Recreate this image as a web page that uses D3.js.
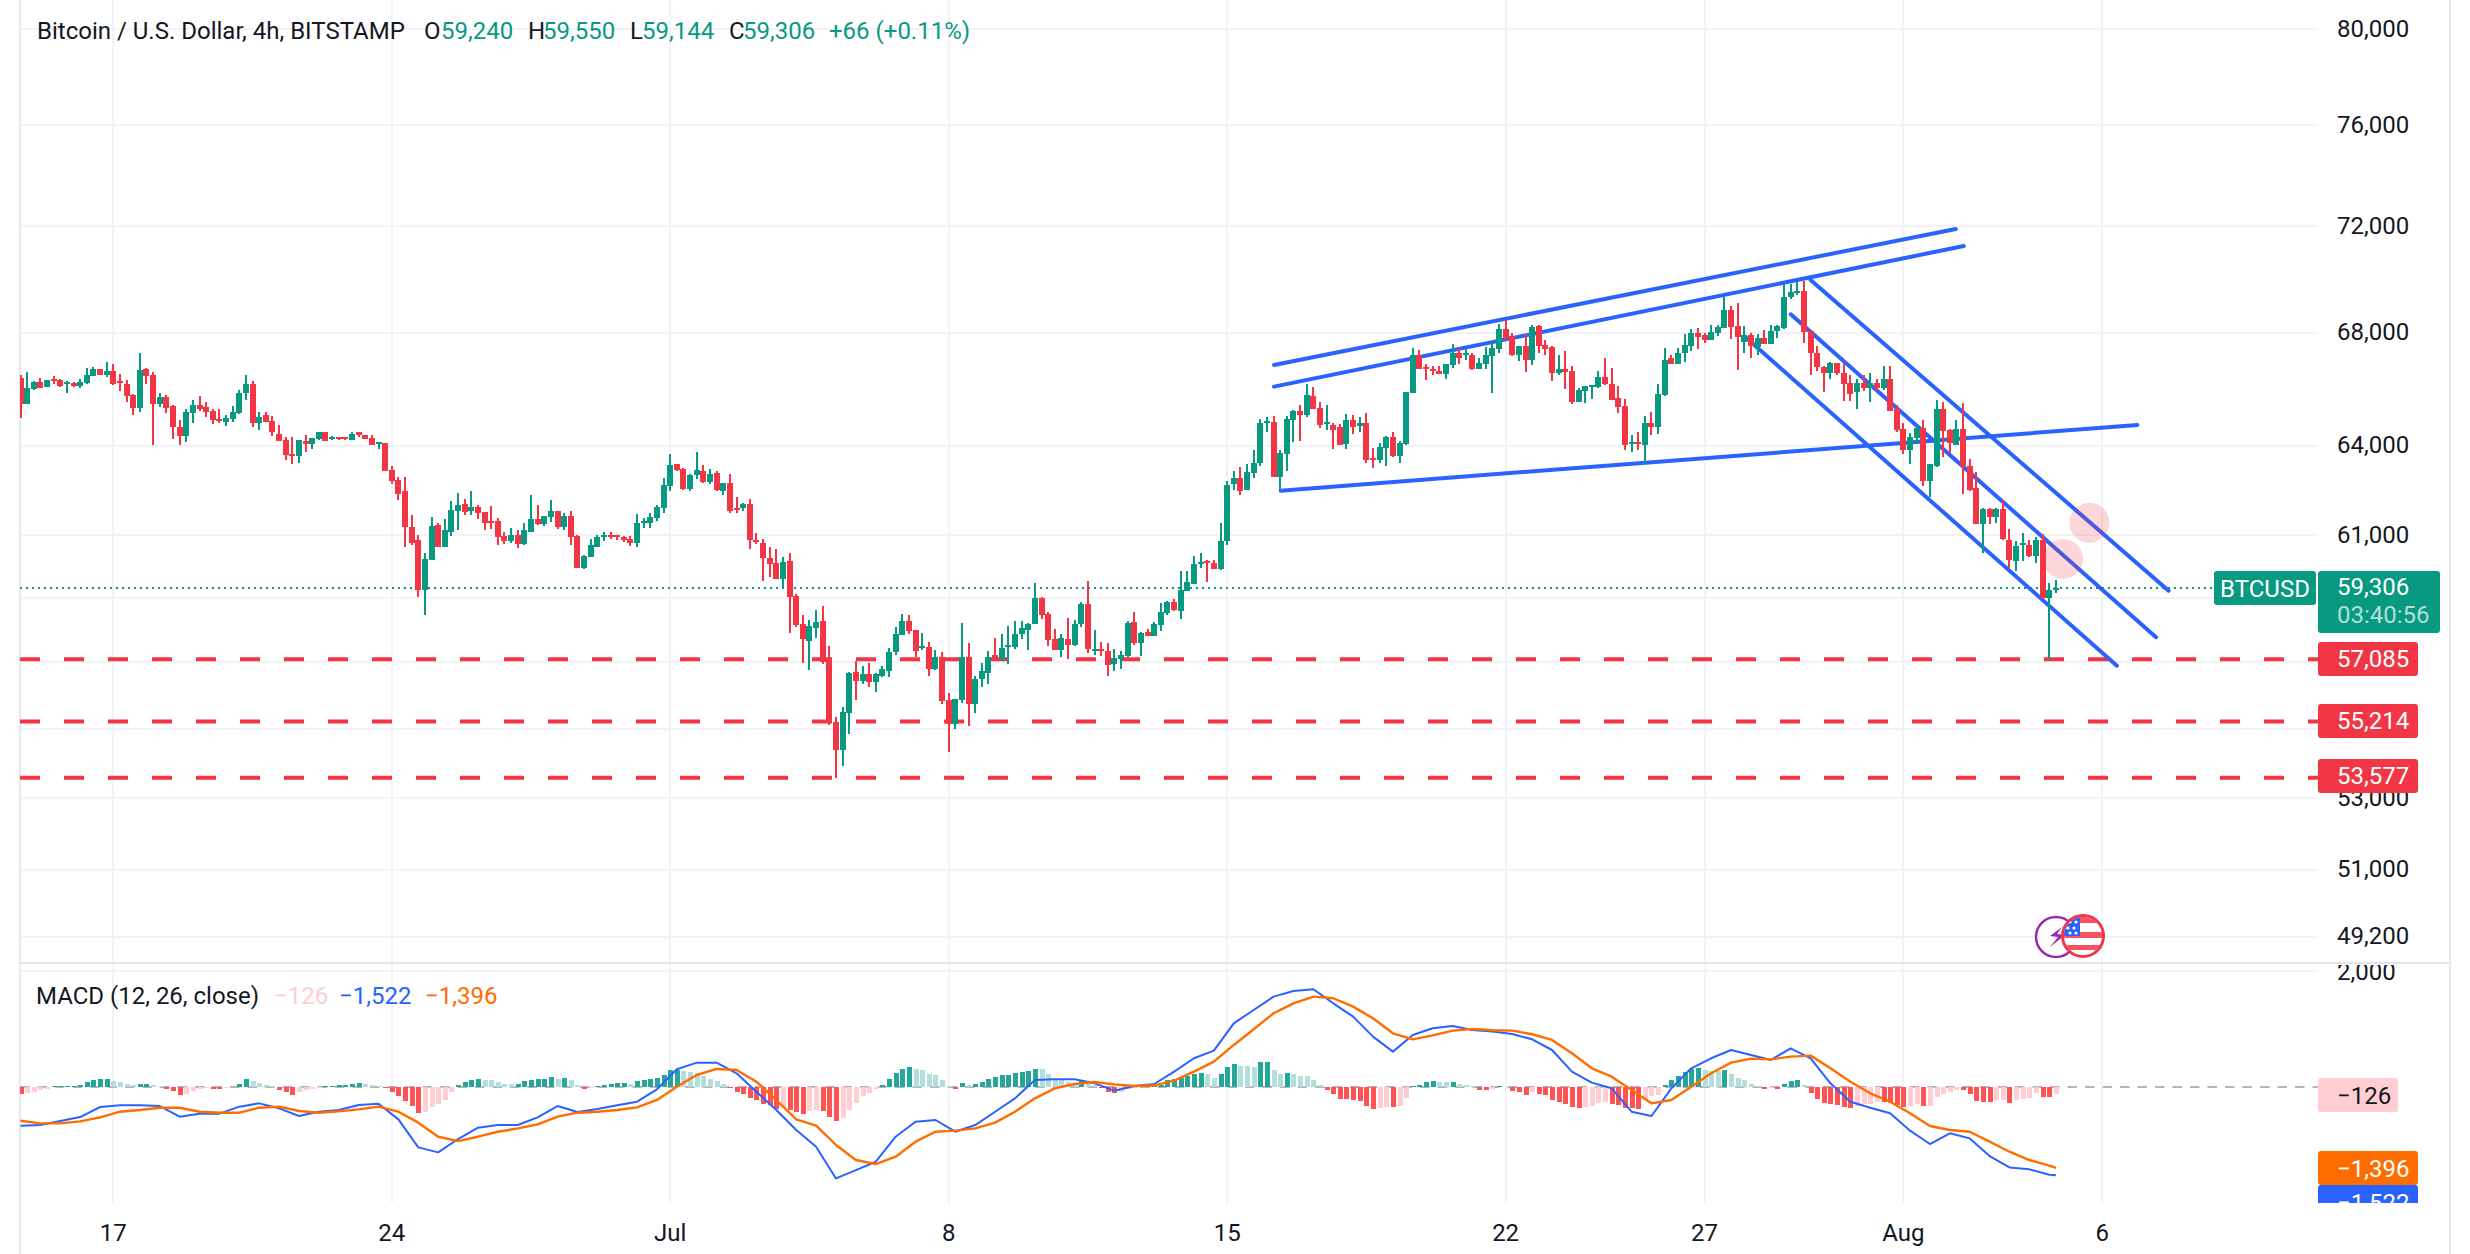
<!DOCTYPE html>
<html><head><meta charset="utf-8">
<script src="https://cdn.jsdelivr.net/npm/d3@7"></script>
<style>html,body{margin:0;padding:0;background:#fff}svg{display:block}text{font-family:Roboto,sans-serif;font-size:24px}</style>
</head><body><div id="chart"></div>
<script>
const opens=[66360,65450,65990,66220,66050,66330,66290,66150,66190,66080,
66190,66430,66680,66470,66610,66260,66150,65760,65300,66680,
66470,65450,65690,65380,64640,64350,65130,65410,65340,65200,
64920,64810,64920,65130,65840,66150,64780,65060,64850,64420,
64210,63730,63670,64180,64070,64250,64460,64250,64320,64320,
64210,64460,64390,64280,64070,64110,63170,62830,62470,61270,
60840,59250,60220,61330,60640,61130,61800,62030,61800,61930,
61770,61470,61470,60970,60810,61000,60710,61100,61530,61370,
61600,61800,61270,61630,60970,59960,60290,60640,60970,61030,
61030,60960,60890,60760,61420,61420,61590,61920,62650,63380,
63210,62550,63010,63150,62780,63080,62480,62750,61920,61890,
62050,60860,60760,60280,60120,59600,60180,59050,58180,57650,
58060,58280,57040,55200,54390,55470,56710,56440,56650,56410,
56590,56740,57310,57840,58280,58000,57440,57470,56800,57160,
55860,55140,55860,57160,55740,56500,56680,57220,57100,57470,
57470,57870,58000,58180,58990,58490,57720,57380,57720,57530,
58180,58800,57340,57410,57340,56950,57100,57190,58240,57590,
57930,57810,58150,58520,58870,58590,59220,59440,60090,60180,
60120,59920,60820,62700,62900,62500,63070,63400,64780,64810,
62930,63730,64880,65200,65060,65730,65310,64740,64710,64640,
64070,64880,64670,64780,63570,63500,63930,64320,63670,64070,
65830,67210,66750,66680,66610,66500,66820,67250,67180,67210,
66680,66860,67140,67420,68130,67880,67210,67530,67030,68240,
67560,67490,66540,66680,66610,65520,65910,66050,66050,66400,
66170,65660,65380,64070,64140,64040,64780,64640,65760,67070,
66860,67280,67530,67990,67920,67740,67990,68170,68820,68240,
67670,67920,67490,67810,67600,68060,68170,69300,69480,69550,
68060,67260,66750,66560,66920,66560,66180,65860,66180,66000,
66180,66020,66350,65260,64590,63860,64260,64620,62820,63300,
65290,64540,64020,64590,63330,62560,61390,61860,61600,61860,
60860,60180,60720,60700,60320,60860,59000,59240];
const highs=[66470,66580,66260,66360,66290,66430,66330,66260,66220,66330,
66720,66750,66680,66930,66860,66500,66290,65800,67250,66720,
66580,65840,65760,65410,64880,65270,65590,65730,65520,65270,
65270,65060,65380,65940,66470,66260,65160,65160,65020,64710,
64320,64320,64210,64390,64280,64490,64490,64350,64320,64320,
64490,64460,64390,64390,64140,64110,63300,62930,62930,61670,
61000,60420,61600,61400,61530,62130,62400,62200,62470,62000,
61770,61970,61570,61100,61230,61170,61400,62330,62000,61630,
62170,61800,61730,61800,61030,60350,60900,61030,61130,61100,
61030,60990,60990,61690,61590,61750,62020,62920,63710,63380,
63250,63050,63780,63350,63210,63150,62750,63050,62280,62080,
62220,61090,60890,60630,60570,60310,60440,59120,58460,58310,
58620,58740,57500,55350,55650,56710,57040,56890,56980,56680,
56890,57440,58090,58490,58460,58000,57900,57620,57380,57310,
56050,55890,58210,57590,56590,56980,57340,57750,57870,58120,
58280,58280,58210,59470,59020,58560,58030,57870,58370,58310,
58870,59540,58000,57620,57590,57410,57340,58280,58560,57930,
58030,58240,58830,58900,58960,59860,59860,60340,60440,60210,
60210,61410,62810,63130,63270,63370,63870,64920,64990,65020,
63870,65020,65230,65410,66150,66050,65520,65410,64780,64740,
65090,65060,64990,65130,63930,64110,64350,64460,64180,65870,
67460,67390,66860,66790,66790,66860,67600,67460,67420,67250,
67070,67490,67670,68320,68460,67990,67530,67950,68280,68280,
67740,67530,67180,67350,66790,66010,66080,66120,66610,67100,
66720,66080,65620,64390,64460,65020,65160,66150,67460,67180,
67460,67950,68130,68170,67990,68280,68280,69330,68970,69080,
68240,67990,67950,68100,68280,68280,69800,69800,69880,69910,
68060,67520,66810,66950,66920,66920,66490,66320,66490,66530,
66350,66810,66780,65430,64790,64440,64670,64910,63390,65580,
65530,64590,64910,65470,63540,63120,61910,61910,61910,62160,
61210,60830,61080,60860,60950,61060,59460,59550];
const lows=[64960,65450,65950,66020,66050,66160,66060,65840,66050,66010,
66150,66430,66470,66400,66120,65900,65520,65060,65160,66150,
64040,65340,65130,64250,64040,64140,64780,65200,64990,64740,
64780,64670,64810,65090,65590,64640,64530,64810,64350,64180,
63500,63370,63430,63800,63900,64210,64180,64210,64210,64210,
64210,64320,64250,64040,63900,63130,62700,62170,60610,60680,
59020,58450,60220,60610,60640,60970,61170,61670,61670,61530,
61170,61200,60680,60710,60740,60580,60680,61100,61330,61300,
61430,61200,61170,60680,59960,59930,60290,60640,60810,60870,
60840,60800,60670,60630,61250,61250,61490,61750,62480,63150,
62520,62480,62880,62750,62720,62480,62350,61750,61750,61790,
60570,60730,59540,59670,59600,59280,57900,58090,56980,56770,
57750,56950,55110,53580,53920,54840,55860,56350,56230,56080,
56560,56560,57220,57840,57870,57160,57380,56590,56770,55740,
54330,54990,55770,55080,55470,56230,56320,57040,57040,56950,
57410,57720,57380,58180,58340,57500,57380,57160,57100,57500,
58090,57280,57220,57190,56590,56740,56800,57160,57530,57190,
57810,57810,57960,58460,58590,58340,59220,59440,59960,59510,
59920,59880,60690,62500,62330,62500,62900,63330,64490,62930,
62500,63130,64140,64180,64990,65270,64600,64560,63900,64040,
63900,64420,64460,63430,63230,63430,63300,63630,63430,64040,
65830,66680,66290,66470,66500,66330,66720,66860,67000,66650,
66680,66680,65830,67280,67740,67140,66960,66580,66820,67280,
67210,66260,66470,65980,65450,65520,65480,65620,66010,66120,
65590,65130,63870,63800,63870,63430,64390,64420,65730,66860,
66860,66930,67320,67420,67630,67740,67880,68170,67770,66650,
67250,67070,67210,67600,67600,67810,68130,69250,69370,67630,
66470,66610,65870,66320,66490,65550,65550,65290,65900,65520,
65900,65960,65220,64490,63720,63390,64080,62630,62260,63280,
63630,63740,64020,62360,62470,61360,60430,61360,61410,60860,
59910,59860,60160,60300,60110,58950,57085,59144];
const closes=[65450,66010,66220,66020,66290,66260,66090,66220,66080,66220,
66470,66680,66470,66610,66150,66190,65730,65300,66650,66430,
65450,65690,65300,64640,64350,65160,65410,65270,65160,64880,
64850,64950,65160,65840,66150,64780,64990,64810,64460,64180,
63700,63670,64210,64070,64280,64460,64180,64320,64250,64250,
64420,64390,64250,64040,64140,63130,62800,62370,61270,60770,
59250,60250,61300,60610,61170,61830,62000,61770,61930,61730,
61400,61400,60940,60810,61000,60710,61170,61530,61370,61630,
61800,61270,61630,60940,59960,60320,60680,60940,61030,60970,
60970,60860,60760,61420,61490,61620,61950,62680,63350,63180,
62550,63010,63180,62780,63050,62520,62750,61820,61850,62050,
60860,60800,60280,60090,59600,60150,59020,58150,57720,58120,
58240,57010,55170,54390,55500,56680,56440,56650,56410,56650,
56800,57310,57870,58280,57960,57340,57500,56800,57160,55830,
55140,55890,57160,55740,56500,56740,57160,57040,57440,57530,
57870,58060,58180,58990,58460,57690,57380,57750,57530,58180,
58800,57410,57410,57340,56920,57130,57220,58210,57590,57900,
57810,58180,58560,58870,58620,59250,59510,60090,60150,60120,
59920,60820,62670,62900,62470,63100,63430,64780,64850,62930,
63770,64920,65200,65060,65760,65270,64710,64810,64530,64040,
64880,64640,64780,63530,63500,63970,64320,63670,64110,65870,
67210,66680,66680,66610,66500,66860,67250,67100,67250,66680,
66890,67210,67460,68130,67810,67210,67530,67030,68200,67530,
67420,66540,66680,66580,65520,65940,66080,66120,66400,66150,
65590,65340,64040,64140,64070,64780,64640,65800,67030,66860,
67280,67560,67990,67850,67740,68020,68200,68820,68200,67850,
67920,67530,67810,67600,68060,68240,69300,69480,69550,68020,
67250,66750,66560,66920,66560,66140,65820,66180,66030,66180,
66020,66350,65220,64550,63860,64290,64620,62820,63390,65290,
64520,64110,64590,63300,62520,61390,61860,61600,61860,60880,
60220,60670,60750,60320,60860,59000,59250,59306];

const histogram=[-115,-105,-80,-60,-29,12,14,17,23,35,
86,127,132,138,104,81,52,29,52,58,
35,17,-35,-69,-138,-115,-75,-35,-17,-29,
-35,-17,-6,58,138,98,63,40,17,-46,
-92,-138,-92,-58,-35,-12,17,23,29,40,
58,69,52,35,17,-17,-81,-161,-242,-322,
-449,-437,-345,-299,-219,-81,29,86,127,138,
121,115,86,58,46,58,104,115,138,144,
167,144,150,115,35,-35,-17,17,35,52,
69,75,46,98,127,138,161,213,288,299,
276,259,242,184,144,104,58,-17,-92,-115,
-190,-230,-288,-316,-374,-362,-391,-431,-460,-414,
-391,-414,-518,-587,-541,-391,-276,-150,-104,-29,
29,138,242,316,345,316,288,230,207,115,
17,-29,69,35,58,92,144,173,201,213,
247,259,270,316,305,219,144,115,81,58,
115,58,29,-17,-92,-104,-81,-40,-17,6,
12,17,40,115,132,161,184,219,242,219,
161,219,345,391,357,355,350,431,432,288,
230,236,230,190,184,115,29,-58,-127,-213,
-215,-219,-242,-334,-374,-357,-345,-350,-334,-190,
12,40,86,104,86,84,85,46,35,12,
-46,-48,-29,17,5,-69,-92,-138,-86,-127,
-138,-219,-253,-288,-345,-357,-345,-334,-276,-265,
-288,-316,-357,-370,-374,-230,-161,-144,29,115,
196,259,311,334,299,276,270,288,230,161,
115,58,17,-35,-23,-35,58,104,115,29,
-104,-207,-270,-288,-311,-345,-357,-334,-288,-285,
-253,-265,-276,-316,-345,-334,-299,-334,-322,-173,
-127,-81,-46,-58,-127,-242,-253,-258,-230,-228,
-276,-219,-201,-184,-104,-173,-178,-126];
const macdLine=[-667,-656,-587,-518,-345,-316,-316,-328,-512,-460,
-460,-339,-282,-368,-500,-426,-397,-311,-288,-558,
-1041,-1127,-897,-702,-656,-656,-523,-328,-431,-380,
-316,-253,-40,305,420,420,236,-81,-397,-742,
-1029,-1576,-1432,-1288,-857,-598,-569,-771,-656,-426,
-196,121,132,132,63,-63,17,52,265,495,
627,1098,1328,1558,1656,1685,1443,1213,868,610,
897,1012,1052,983,955,914,822,638,265,75,
-23,-426,-500,-23,322,495,638,552,466,667,
495,63,-253,-357,-454,-753,-983,-799,-886,-1190,
-1386,-1420,-1512,-1522];
const signalLine=[-581,-627,-627,-592,-523,-426,-397,-357,-357,-426,
-443,-443,-357,-339,-414,-443,-420,-385,-339,-426,
-615,-857,-932,-857,-771,-713,-644,-512,-443,-426,
-397,-351,-224,6,207,311,293,92,-224,-558,
-667,-1000,-1259,-1328,-1202,-943,-771,-753,-713,-615,
-426,-196,-23,52,86,46,17,29,109,265,
437,725,995,1271,1443,1558,1530,1386,1185,926,
822,891,972,1000,978,972,909,811,581,322,
178,-52,-282,-224,6,236,420,489,477,523,
541,322,92,-109,-253,-454,-673,-742,-771,-943,
-1116,-1259,-1357,-1396];
const lineSampleIndex=[...d3.range(0,307,3),307];

const priceTicks=[80000,76000,72000,68000,64000,61000,59000,57000,55000,53000,51000,49200];
const hiddenPriceTicks=[59000,57000,55000];
const timeTicks=[[14,"17"],[56,"24"],[98,"Jul"],[140,"8"],[182,"15"],[224,"22"],[254,"27"],[284,"Aug"],[314,"6"]];
const supportLevels=[57085,55214,53577];
const lastPrice=59306;
const trendLines=[
 [[189.07,66834],[291.9,71884]],
 [[189.07,66063],[293.1,71232]],
 [[190.07,62482],[319.3,64720]],
 [[270,69947],[324,59223]],
 [[267,68673],[322.1,57763]],
 [[260.1,67854],[316.2,56891]]
];
const markers=[[312.05,61420],[308.07,60240]];
const macdLegend=[["MACD (12, 26, close)",36,"#131722"],["\u2212126",274,"#ffcdd2"],["\u22121,522",339,"#2962ff"],["\u22121,396",425,"#ff6d00"]];
const headerSegs=[["Bitcoin / U.S. Dollar, 4h, BITSTAMP",37,"#131722"],["O",424,"#131722"],["59,240",441,"#089981"],["H",528,"#131722"],["59,550",543,"#089981"],["L",630,"#131722"],["59,144",642,"#089981"],["C",729,"#131722"],["59,306",743,"#089981"],["+66 (+0.11%)",829,"#089981"]];

const UP="#089981",DOWN="#f23645",GRID="#f2f3f6",BORDER="#e6e8ef";
const W=2470,H=1254,L=20,R=2318,AX=2450,PRICE_BOTTOM=963,MACD_BOTTOM=1203;
const x=d3.scaleLinear().domain([0,307]).range([20.5,20.5+6.63*307]);
const y=d3.scaleLog().domain([80000,49200]).range([29.3,936.8]);
const ym=d3.scaleLinear().domain([2000,0]).range([971,1087]);

const svg=d3.select("#chart").append("svg").attr("width",W).attr("height",H).attr("viewBox",`0 0 ${W} ${H}`);
const defs=svg.append("defs");
defs.append("clipPath").attr("id","pp").append("rect").attr("x",L).attr("y",0).attr("width",AX-L).attr("height",PRICE_BOTTOM);
defs.append("clipPath").attr("id","mp").append("rect").attr("x",L).attr("y",PRICE_BOTTOM).attr("width",AX-L).attr("height",MACD_BOTTOM-PRICE_BOTTOM);
defs.append("clipPath").attr("id","ml").append("rect").attr("x",R).attr("y",PRICE_BOTTOM+2).attr("width",AX-R).attr("height",MACD_BOTTOM-PRICE_BOTTOM-2);
defs.append("clipPath").attr("id","flag").append("circle").attr("cx",2083).attr("cy",936).attr("r",19);

// grid
const grid=svg.append("g").attr("class","grid");
grid.selectAll(".v").data(timeTicks).join("rect").attr("x",d=>Math.round(x(d[0]))-1).attr("y",0).attr("width",2).attr("height",MACD_BOTTOM).attr("fill",GRID);
grid.selectAll(".h").data(priceTicks).join("rect").attr("x",L).attr("y",d=>Math.round(y(d))-1).attr("width",R-L).attr("height",2).attr("fill",GRID);
grid.append("rect").attr("x",L).attr("y",Math.round(ym(2000))-1).attr("width",R-L).attr("height",2).attr("fill",GRID);
grid.append("rect").attr("x",L-1).attr("y",0).attr("width",2).attr("height",H).attr("fill",BORDER);
grid.append("rect").attr("x",AX-1).attr("y",0).attr("width",2).attr("height",H).attr("fill",BORDER);
grid.append("rect").attr("x",L).attr("y",PRICE_BOTTOM-1).attr("width",AX-L).attr("height",2).attr("fill","#e0e3eb");

const pane=svg.append("g").attr("clip-path","url(#pp)");
// support levels
pane.selectAll(".sup").data(supportLevels).join("line").attr("x1",L).attr("x2",R).attr("y1",d=>y(d)).attr("y2",d=>y(d))
 .attr("stroke",DOWN).attr("stroke-width",4).attr("stroke-dasharray","20 24");
// last price dotted
pane.append("line").attr("x1",L).attr("x2",R).attr("y1",y(lastPrice)).attr("y2",y(lastPrice)).attr("stroke",UP).attr("stroke-width",2).attr("stroke-dasharray","2 4");
// trend lines
pane.selectAll(".tl").data(trendLines).join("line")
 .attr("x1",d=>x(d[0][0])).attr("y1",d=>y(d[0][1])).attr("x2",d=>x(d[1][0])).attr("y2",d=>y(d[1][1]))
 .attr("stroke","#2962ff").attr("stroke-width",4).attr("stroke-linecap","round");
// candles
const idx=d3.range(opens.length);
const col=i=>closes[i]>=opens[i]?UP:DOWN;
const candles=pane.append("g").attr("shape-rendering","crispEdges");
candles.selectAll(".w").data(idx).join("rect").attr("x",i=>Math.round(x(i))-1).attr("width",2)
 .attr("y",i=>Math.round(y(highs[i]))).attr("height",i=>Math.max(1,Math.round(y(lows[i]))-Math.round(y(highs[i])))).attr("fill",col);
candles.selectAll(".b").data(idx).join("rect").attr("x",i=>Math.round(x(i))-3).attr("width",6)
 .attr("y",i=>Math.round(y(Math.max(opens[i],closes[i])))).attr("height",i=>Math.max(2,Math.round(y(Math.min(opens[i],closes[i])))-Math.round(y(Math.max(opens[i],closes[i]))))).attr("fill",col);
// pink markers
pane.selectAll(".mk").data(markers).join("circle").attr("cx",d=>x(d[0])).attr("cy",d=>y(d[1])).attr("r",20).attr("fill","#f23645").attr("fill-opacity",0.2);

// event icons
const ic=svg.append("g");
ic.append("circle").attr("cx",2056).attr("cy",937).attr("r",20).attr("fill","#fff").attr("stroke","#9c27b0").attr("stroke-width",2.5);
ic.append("path").attr("d","M2062 927 L2050 936 L2058 937 L2050 947 L2065 935 L2057 934 Z").attr("fill","#9c27b0");
ic.append("circle").attr("cx",2083).attr("cy",936).attr("r",20.5).attr("fill","#fff").attr("stroke","#f23645").attr("stroke-width",3);
const fg=ic.append("g").attr("clip-path","url(#flag)");
[[917,6],[932,6],[945,5],[958,16]].forEach(s=>fg.append("rect").attr("x",2060).attr("y",s[0]).attr("width",46).attr("height",s[1]).attr("fill","#f7525f"));
fg.append("rect").attr("x",2060).attr("y",917).attr("width",20).attr("height",19).attr("fill","#2962ff");
[[2070,924],[2076,924],[2068,930],[2074,930],[2070,935],[2076,935]].forEach(s=>fg.append("circle").attr("cx",s[0]).attr("cy",s[1]-2).attr("r",1.6).attr("fill","#fff"));

// MACD pane
const mpane=svg.append("g").attr("clip-path","url(#mp)");
mpane.append("line").attr("x1",L).attr("x2",R).attr("y1",ym(0)).attr("y2",ym(0)).attr("stroke","#b2b5be").attr("stroke-width",2).attr("stroke-dasharray","9.5 8");
const hcol=i=>{const p=i>0?histogram[i-1]:histogram[i]+(histogram[i]<0?1:-1),h=histogram[i];return h>=0?(h>=p?"#26a69a":"#b2dfdb"):(h<p?"#ff5252":"#ffcdd2");};
mpane.append("g").attr("shape-rendering","crispEdges").selectAll("rect").data(idx).join("rect")
 .attr("x",i=>Math.round(x(i))-2).attr("width",5)
 .attr("y",i=>Math.min(ym(0),ym(histogram[i]))).attr("height",i=>Math.abs(ym(histogram[i])-ym(0))).attr("fill",hcol);
const lgen=d3.line().x((d,i)=>x(lineSampleIndex[i])).y(d=>ym(d));
mpane.append("path").attr("d",lgen(macdLine)).attr("fill","none").attr("stroke","#2962ff").attr("stroke-width",2).attr("stroke-linejoin","round");
mpane.append("path").attr("d",lgen(signalLine)).attr("fill","none").attr("stroke","#ff6d00").attr("stroke-width",2.4).attr("stroke-linejoin","round");

const T=(g,s,xx,yy,c,anchor)=>g.append("text").attr("x",xx).attr("y",yy).attr("dy","0.36em").attr("fill",c).attr("text-anchor",anchor||"start").text(s);
const fmt=d3.format(",");
const neg=v=>(v<0?"\u2212":"")+fmt(Math.abs(v));

// header
const hd=svg.append("g");
headerSegs.forEach(s=>T(hd,s[0],s[1],30,s[2]));
macdLegend.forEach(s=>T(hd,s[0],s[1],995,s[2]));

// price axis
const ax=svg.append("g");
priceTicks.filter(v=>!hiddenPriceTicks.includes(v)).forEach(v=>T(ax,fmt(v),2337,y(v)-1,"#131722"));

function tag(g,x0,w,y0,h,fill){g.append("rect").attr("x",x0).attr("y",y0).attr("width",w).attr("height",h).attr("rx",3).attr("fill",fill);}
tag(ax,2214,102,571,34,UP);
T(ax,"BTCUSD",2265,588,"#fff","middle");
tag(ax,2318,122,571,62,UP);
T(ax,fmt(lastPrice),2337,586.5,"#fff");
T(ax,"03:40:56",2337,614,"rgba(255,255,255,0.7)");
const supCenters=[659,721,776];
supportLevels.forEach((v,k)=>{tag(ax,2318,100,supCenters[k]-17,34,DOWN);T(ax,fmt(v),2337,supCenters[k]-1,"#fff");});

// MACD axis labels
const ml=svg.append("g").attr("clip-path","url(#ml)");
T(ml,fmt(2000),2337,ym(2000),"#131722");
tag(ml,2318,80,1078,34,"#ffcdd2");
T(ml,neg(histogram[histogram.length-1]),2337,1095,"#131722");
tag(ml,2318,100,1185,34,"#2962ff");
T(ml,neg(macdLine[macdLine.length-1]),2337,1202,"#fff");
tag(ml,2318,100,1151,34,"#ff6d00");
T(ml,neg(signalLine[signalLine.length-1]),2337,1168,"#fff");

// time labels
const tx=svg.append("g");
timeTicks.forEach(t=>T(tx,t[1],x(t[0]),1232,"#131722","middle"));
</script></body></html>
